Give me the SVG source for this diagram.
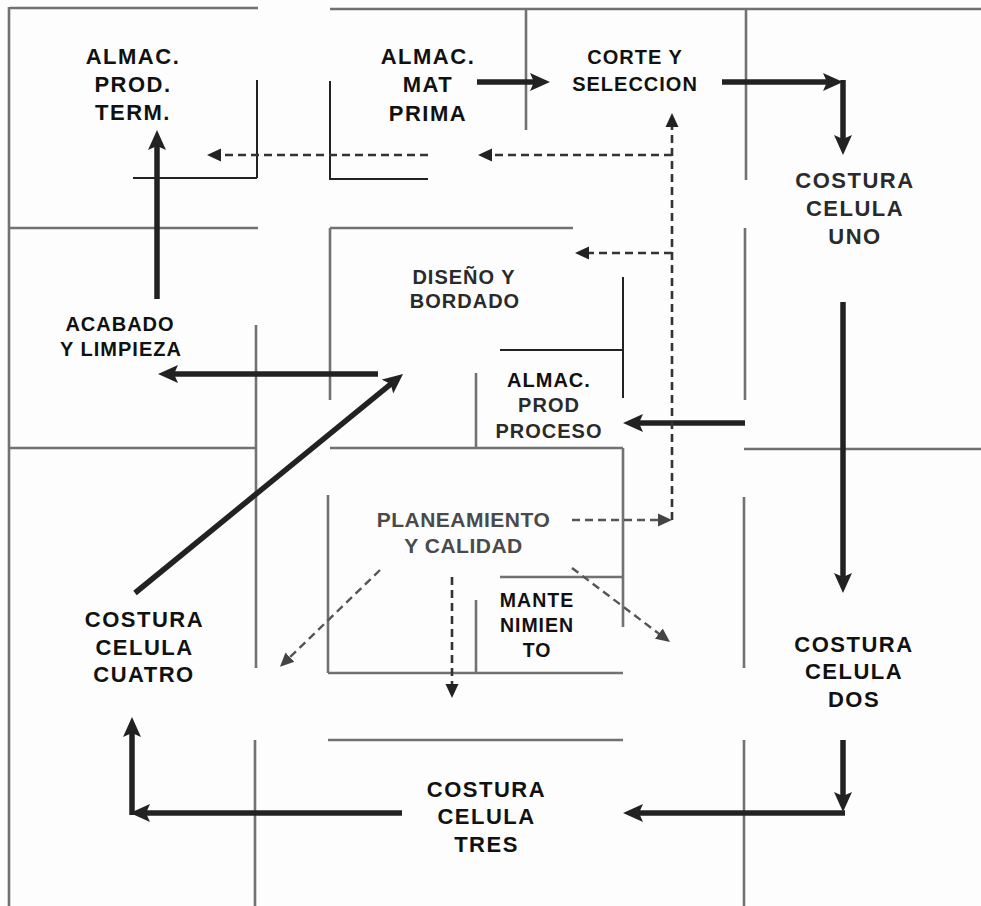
<svg xmlns="http://www.w3.org/2000/svg" width="981" height="906" viewBox="0 0 981 906">
<style>
.wall{stroke:#727272;stroke-width:2.6;fill:none}
.thin{stroke:#222;stroke-width:2;fill:none}
.flow{stroke:#222;stroke-width:5.5;fill:none;marker-end:url(#ah)}
.dash{stroke:#333;stroke-width:2.6;fill:none;stroke-dasharray:8 5;marker-end:url(#dh)}
.dashg{stroke:#555;stroke-width:2.4;fill:none;stroke-dasharray:8 5;marker-end:url(#dhg)}
text{font-family:"Liberation Sans",Arial,Helvetica,sans-serif;font-weight:bold;text-anchor:middle;fill:#111}
.f22{font-size:22px;letter-spacing:1.5px}
.f20{font-size:20px;letter-spacing:1px}
.f19{font-size:19.5px;letter-spacing:1px}
.f21{font-size:21px;letter-spacing:0.5px;fill:#4a4a4a}
.g{fill:#2a2a2a}
</style>
<defs>
<marker id="ah" markerUnits="userSpaceOnUse" markerWidth="20" markerHeight="20" viewBox="0 0 20 20" refX="10" refY="10" orient="auto">
<path d="M0,1 L20,10 L0,19 L4,10 z" fill="#222"/>
</marker>
<marker id="dh" markerUnits="userSpaceOnUse" markerWidth="14" markerHeight="14" viewBox="0 0 14 14" refX="7" refY="7" orient="auto">
<path d="M0,0.5 L14,7 L0,13.5 z" fill="#222"/>
</marker>
<marker id="dhg" markerUnits="userSpaceOnUse" markerWidth="14" markerHeight="14" viewBox="0 0 14 14" refX="7" refY="7" orient="auto">
<path d="M0,0.5 L14,7 L0,13.5 z" fill="#444"/>
</marker>
</defs>
<rect x="0" y="0" width="981" height="906" fill="#fdfdfd"/>

<g id="walls">
<path class="wall" d="M10,8 H258 M330,9 H981 M9,7 V906"/>
<path class="wall" d="M10,228 H258 M330,228 H573 M330,228 V400"/>
<path class="wall" d="M526,10 V130 M746,10 V180 M745,228 V400 M744,449 H981 M744,497 V668 M744,740 V906"/>
<path class="wall" d="M256,325 V668 M10,448 H256 M330,448 H623 M476,373 V448"/>
<path class="wall" d="M623,448 V627 M500,577 H623 M476,600 V673 M328,495 V673 M328,673 H623 M328,740 H623 M255,740 V906"/>
<path class="thin" d="M257,80 V178 M133,178 H257 M330,81 V179 H428 M623,277 V398 M500,350 H623"/>
</g>

<g id="connectors">
<path class="flow" d="M477,82 H540"/>
<path class="flow" d="M722,82 H833"/>
<path class="flow" d="M843,80 V145"/>
<path class="flow" d="M843,302 V583"/>
<path class="flow" d="M745,423 H633"/>
<path class="flow" d="M843,740 V802"/>
<path class="flow" d="M845,813 H633"/>
<path class="flow" d="M402,813 H140"/>
<path class="flow" d="M132,815 V727"/>
<path class="flow" d="M135,593 L395.3,380.3"/>
<path class="flow" d="M378,374 H168"/>
<path class="flow" d="M157,299 V140"/>
<path class="dash" d="M672,520 V120"/>
<path class="dashg" d="M572,520 H665"/>
<path class="dash" d="M672,155 H485"/>
<path class="dash" d="M428,155 H214"/>
<path class="dash" d="M672,253 H582"/>
<path class="dashg" d="M380,570 L285,662"/>
<path class="dash" d="M452,577 V691"/>
<path class="dashg" d="M572,568 L664.4,637.8"/>
</g>

<g id="almac-prod-term"><text class="f22" x="133" y="64">ALMAC.</text><text class="f22" x="133" y="92">PROD.</text><text class="f22" x="133" y="120">TERM.</text></g>
<g id="almac-mat-prima"><text class="f22" x="428" y="64">ALMAC.</text><text class="f22" x="428" y="92">MAT</text><text class="f22" x="428" y="121">PRIMA</text></g>
<g id="corte-seleccion"><text class="f20" x="635" y="64">CORTE Y</text><text class="f20" x="635" y="91">SELECCION</text></g>
<g id="costura-uno"><text class="f22 g" x="855" y="188">COSTURA</text><text class="f22 g" x="855" y="216">CELULA</text><text class="f22 g" x="855" y="244">UNO</text></g>
<g id="diseno-bordado"><text class="f20 g" x="464" y="284">DISEÑO Y</text><text class="f20 g" x="465" y="308">BORDADO</text></g>
<g id="almac-prod-proceso"><text class="f20" x="549" y="387">ALMAC.</text><text class="f20 g" x="549" y="412">PROD</text><text class="f20 g" x="549" y="438">PROCESO</text></g>
<g id="acabado-limpieza"><text class="f20" x="120" y="331">ACABADO</text><text class="f20" x="121" y="356">Y LIMPIEZA</text></g>
<g id="planeamiento-calidad"><text class="f21" x="463.5" y="527">PLANEAMIENTO</text><text class="f21" x="463.5" y="553">Y CALIDAD</text></g>
<g id="mantenimiento"><text class="f19" x="537" y="607">MANTE</text><text class="f19" x="537" y="632">NIMIEN</text><text class="f19" x="537" y="657">TO</text></g>
<g id="costura-dos"><text class="f22" x="854" y="652">COSTURA</text><text class="f22" x="854" y="679">CELULA</text><text class="f22" x="854" y="707">DOS</text></g>
<g id="costura-cuatro"><text class="f22" x="144.5" y="627">COSTURA</text><text class="f22" x="144.5" y="655">CELULA</text><text class="f22" x="144" y="682">CUATRO</text></g>
<g id="costura-tres"><text class="f22" x="486.5" y="797">COSTURA</text><text class="f22" x="486.5" y="824">CELULA</text><text class="f22" x="486.5" y="852">TRES</text></g>
</svg>
